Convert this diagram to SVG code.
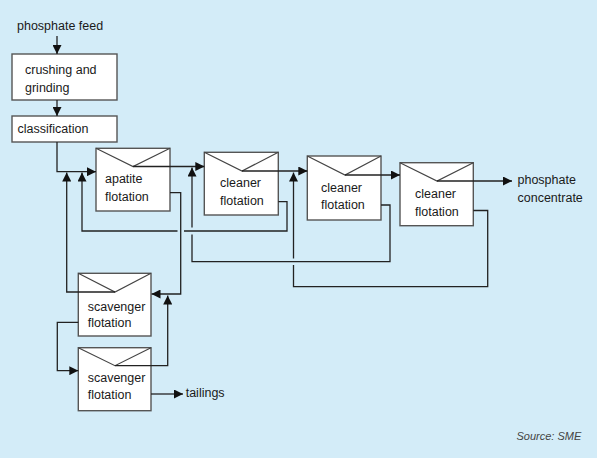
<svg xmlns="http://www.w3.org/2000/svg" width="597" height="458" viewBox="0 0 597 458">
<style>
.box{fill:#ffffff;stroke:#555555;stroke-width:1.4}
.v{fill:none;stroke:#444444;stroke-width:1.2}
.t{font-family:"Liberation Sans",Arial,sans-serif;font-size:12.5px;fill:#1a1a1a}
.c{fill:none;stroke:#222222;stroke-width:1.3}
.src{font-family:"Liberation Sans",Arial,sans-serif;font-size:11px;font-style:italic;fill:#444444}
</style>
<defs>
<marker id="ah" viewBox="0 0 10 10" refX="10" refY="5" markerWidth="9" markerHeight="9" orient="auto" markerUnits="userSpaceOnUse">
<path d="M0,0 L10,5 L0,10 z" fill="#111111"/>
</marker>
</defs>
<rect width="597" height="458" fill="#d3ecf8"/>
<g id="feed"><text class="t" x="17" y="30">phosphate feed</text></g>
<g id="crushing"><rect class="box" x="12" y="54" width="105" height="46"/><text class="t" x="25" y="74">crushing and</text><text class="t" x="25" y="91.5">grinding</text></g>
<g id="classification"><rect class="box" x="12" y="116" width="105" height="26"/><text class="t" x="17.5" y="133">classification</text></g>
<g id="apatite"><rect class="box" x="96" y="148.3" width="74" height="62.7"/><path class="v" d="M96,148.3 L133,166.5 L170,148.3"/><text class="t" x="105" y="182.5">apatite</text><text class="t" x="105" y="200.5">flotation</text></g>
<g id="cleaner1"><rect class="box" x="204.3" y="152.3" width="74" height="62.7"/><path class="v" d="M204.3,152.3 L242,171 L278.3,152.3"/><text class="t" x="220" y="187.3">cleaner</text><text class="t" x="220" y="205.3">flotation</text></g>
<g id="cleaner2"><rect class="box" x="307.3" y="156" width="73.7" height="64"/><path class="v" d="M307.3,156 L345,175 L381,156"/><text class="t" x="321" y="191.7">cleaner</text><text class="t" x="321" y="209.3">flotation</text></g>
<g id="cleaner3"><rect class="box" x="400" y="162.7" width="73.3" height="63"/><path class="v" d="M400,162.7 L437,181 L473.3,162.7"/><text class="t" x="415" y="198.3">cleaner</text><text class="t" x="415" y="216">flotation</text></g>
<g id="concentrate"><text class="t" x="517.5" y="184.3">phosphate</text><text class="t" x="517.5" y="201.7">concentrate</text></g>
<g id="scavenger1"><rect class="box" x="78.3" y="273.3" width="72.7" height="62.7"/><path class="v" d="M78.3,273.3 L115,292 L151,273.3"/><text class="t" x="87.7" y="310.7">scavenger</text><text class="t" x="87.7" y="327">flotation</text></g>
<g id="scavenger2"><rect class="box" x="78.3" y="347.7" width="72.7" height="63"/><path class="v" d="M78.3,347.7 L115,365.7 L151,347.7"/><text class="t" x="87.7" y="381.7">scavenger</text><text class="t" x="87.7" y="399">flotation</text></g>
<g id="tailings"><text class="t" x="185.7" y="397.3">tailings</text></g>
<g id="connectors">
<path class="c" d="M57,36 V54" marker-end="url(#ah)"/>
<path class="c" d="M57,100 V116" marker-end="url(#ah)"/>
<path class="c" d="M57,142 V171.7 H96" marker-end="url(#ah)"/>
<path class="c" d="M133,166.5 H204.3" marker-end="url(#ah)"/>
<path class="c" d="M242,171 H307.3" marker-end="url(#ah)"/>
<path class="c" d="M345,175 H400" marker-end="url(#ah)"/>
<path class="c" d="M437,181 H512" marker-end="url(#ah)"/>
<path class="c" d="M170,192.7 H180.7 V294 H151.5" marker-end="url(#ah)"/>
<path class="c" d="M278.3,201.7 H287 V231 H184"/>
<path class="c" d="M177.5,231 H82 V172.5" marker-end="url(#ah)"/>
<path class="c" d="M381,205 H390 V261.7 H192 V234.5"/>
<path class="c" d="M192,227.5 V167.5" marker-end="url(#ah)"/>
<path class="c" d="M473.3,210.5 H487.7 V286.7 H293.5 V265"/>
<path class="c" d="M293.5,258.5 V172.5" marker-end="url(#ah)"/>
<path class="c" d="M115,292 H66.7 V172.5" marker-end="url(#ah)"/>
<path class="c" d="M78.3,322.3 H57.3 V370.7 H78.3" marker-end="url(#ah)"/>
<path class="c" d="M115,365.7 H167.7 V295.5" marker-end="url(#ah)"/>
<path class="c" d="M151,394 H183" marker-end="url(#ah)"/>
</g>
<g id="source"><text class="src" x="516.5" y="439.5">Source: SME</text></g>
</svg>
